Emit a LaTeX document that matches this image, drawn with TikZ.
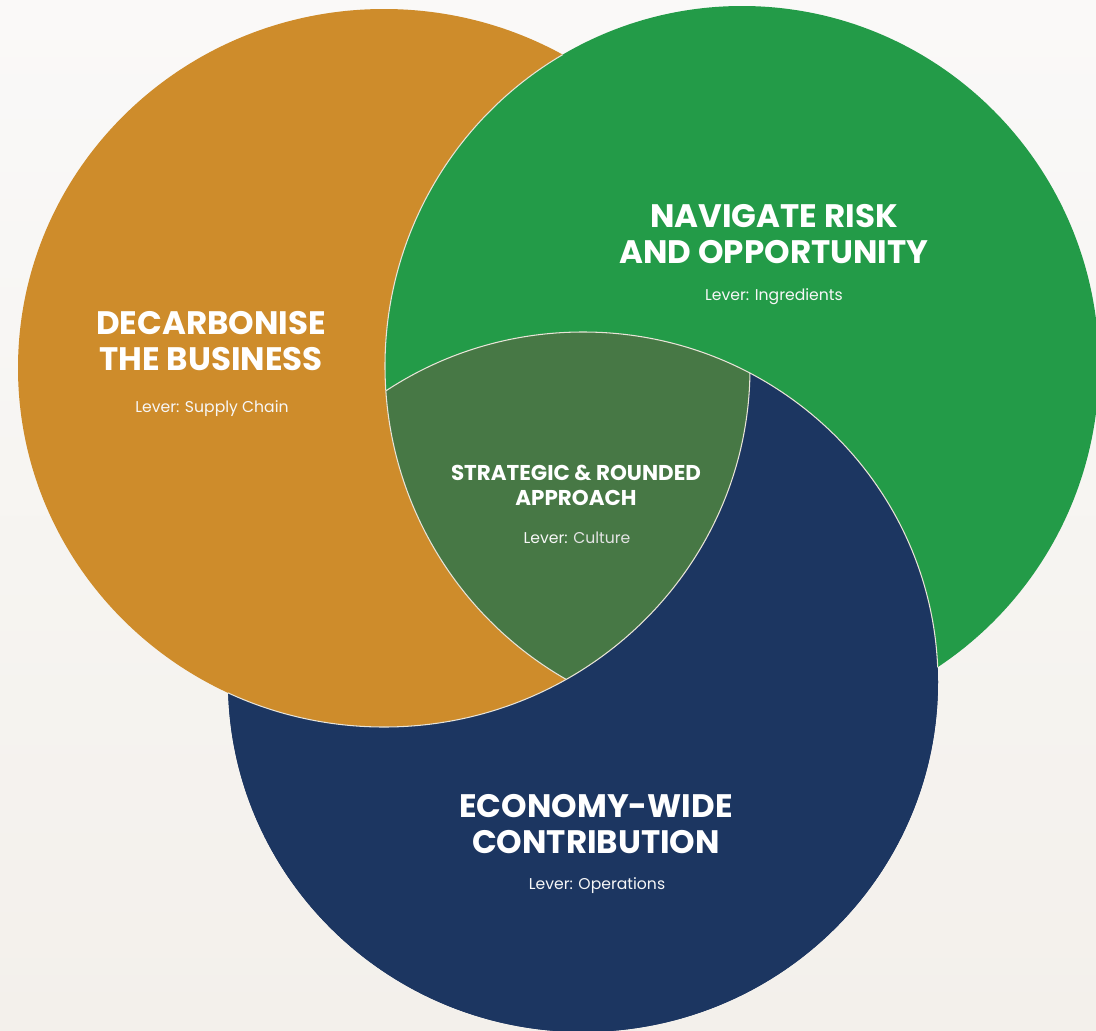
\documentclass[tikz,border=0pt]{standalone}
\usepackage{fontspec}
\setmainfont{Poppins}
\usepackage{xcolor}

\definecolor{bgtop}{HTML}{FAF9F8}
\definecolor{bgbottom}{HTML}{F3F0EB}
\definecolor{decarbcol}{HTML}{CE8C2B}
\definecolor{navigatecol}{HTML}{239B48}
\definecolor{economycol}{HTML}{1C3661}
\definecolor{centrecol}{HTML}{477845}
\definecolor{edgecol}{HTML}{E9E4D8}

% the three circles, in pixel units
\def\decarbcircle{(384,368) ellipse [x radius=366, y radius=359]}
\def\navigatecircle{(742,366) ellipse [x radius=357, y radius=360]}
\def\economycircle{(583,682) ellipse [x radius=355, y radius=350]}

\begin{document}
\begin{tikzpicture}[x=0.02cm, y=-0.02cm,
            edge/.style={draw=edgecol, line width=0.6pt},
            titlenode/.style={align=center, text=white, inner sep=0pt, anchor=base,
                font=\bfseries\fontsize{18.5}{20}\selectfont},
            smalltitlenode/.style={align=center, text=white, inner sep=0pt, anchor=base,
                font=\bfseries\fontsize{12.2}{14.2}\selectfont},
            levernode/.style={align=center, text=white!94!gray, inner sep=0pt, anchor=base,
                font=\fontsize{8.9}{10}\selectfont}
        ]
            % background
            \fill[top color=bgtop, bottom color=bgbottom] (0,0) rectangle (1096,1031);
            \useasboundingbox (0,0) rectangle (1096,1031);

            % circles (each one lies on top of the next)
            \fill[economycol] \economycircle;
            \fill[decarbcol] \decarbcircle;
            \fill[navigatecol] \navigatecircle;
            \begin{scope}
                \clip \economycircle;
                \fill[economycol, even odd rule] (0,0) rectangle (1096,1031) \decarbcircle;
            \end{scope}

            % centre
            \begin{scope}
                \clip \decarbcircle;
                \clip \navigatecircle;
                \fill[centrecol] \economycircle;
            \end{scope}

            % thin edges where circles meet
            \begin{scope}
                \clip \economycircle;
                \path[edge] \decarbcircle;
            \end{scope}
            \begin{scope}
                \clip \decarbcircle;
                \path[edge] \navigatecircle;
            \end{scope}
            \begin{scope}
                \clip \navigatecircle;
                \path[edge] \economycircle;
            \end{scope}

            % titles (placed at the baseline of their last line)
            \node[titlenode] (decarb) at (211, 370) {DECARBONISE\\THE BUSINESS};
            \node[titlenode] (navigate) at (774, 263) {NAVIGATE RISK\\AND OPPORTUNITY};
            \node[titlenode] (economy) at (596, 853) {ECONOMY-WIDE\\CONTRIBUTION};
            \node[smalltitlenode] (strategic) at (576, 505) {STRATEGIC \& ROUNDED\\APPROACH};

            % levers
            \node[levernode] (decarblever) at (212, 412) {Lever: Supply Chain};
            \node[levernode] (navigatelever) at (774, 300) {Lever: Ingredients};
            \node[levernode] (economylever) at (597, 889) {Lever: Operations};
            \node[levernode] (strategiclever) at (577, 543) {Lever: \textcolor{white!78!gray}{Culture}};

        \end{tikzpicture}
\end{document}
